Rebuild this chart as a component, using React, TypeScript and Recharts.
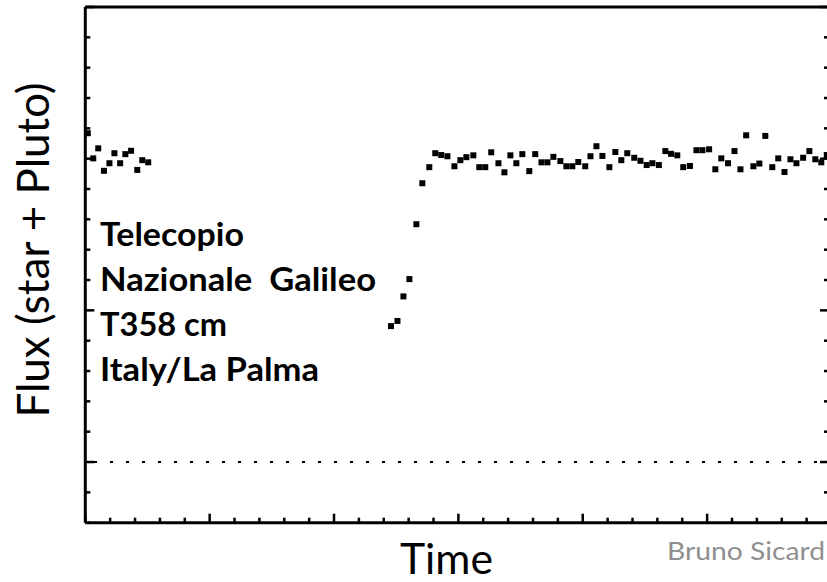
import { ReferenceLine, Scatter, ScatterChart, XAxis, YAxis } from "recharts";

// time in tick units, flux in tick units (bottom of frame = 0)
const preTime = [0.1, 0.32, 0.52, 0.75, 0.97, 1.17, 1.4, 1.61, 1.84, 2.09, 2.29, 2.53];
const preFlux = [12.84, 12.01, 12.34, 11.6, 11.85, 12.18, 11.85, 12.15, 12.26, 11.63, 11.95, 11.88];

const postTime = [
  12.29, 12.55, 12.79, 13.03, 13.31, 13.55, 13.83, 14.07, 14.31, 14.56, 14.84, 15.08, 15.32, 15.6, 15.84,
  16.08, 16.32, 16.61, 16.85, 17.09, 17.33, 17.57, 17.85, 18.09, 18.34, 18.58, 18.82, 19.1, 19.34, 19.58,
  19.82, 20.1, 20.31, 20.55, 20.79, 21.07, 21.31, 21.55, 21.79, 22.07, 22.32, 22.57, 22.8, 23.06, 23.32,
  23.55, 23.8, 24.04, 24.31, 24.57, 24.81, 25.08, 25.33, 25.57, 25.84, 26.1, 26.34, 26.57, 26.86, 27.1,
  27.34, 27.62, 27.86, 28.11, 28.35, 28.59, 28.86, 29.11, 29.35, 29.59, 29.81,
];
const postFlux = [
  6.48, 6.65, 7.46, 8.03, 9.84, 11.19, 11.72, 12.18, 12.12, 12.08, 11.75, 11.95, 12.05, 12.11, 11.72,
  11.72, 12.21, 11.85, 11.55, 12.11, 11.85, 12.15, 11.59, 12.15, 11.88, 11.88, 12.06, 11.92, 11.75, 11.75,
  11.89, 11.75, 12.08, 12.41, 12.09, 11.72, 12.22, 11.95, 12.18, 12.03, 11.93, 11.79, 11.85, 11.79, 12.25,
  12.16, 12.11, 11.72, 11.76, 12.28, 12.28, 12.31, 11.65, 12.01, 11.85, 12.25, 11.65, 12.77, 11.75, 11.84,
  12.75, 11.72, 12.01, 11.56, 11.98, 11.85, 12.03, 12.25, 11.98, 11.88, 12.12,
];

const xTicks = [0, 1, 2, 3, 4, 5, 6, 7, 8, 9, 10, 11, 12, 13, 14, 15, 16, 17, 18, 19, 20, 21, 22, 23, 24, 25, 26, 27, 28, 29];
const xMajor = [0, 5, 10, 15, 20, 25];
const yTicks = [0, 1, 2, 3, 4, 5, 6, 7, 8, 9, 10, 11, 12, 13, 14, 15, 16, 17];
const yMajor = [2, 7, 12, 17];
const baseline = 2;

const notes = ["Telecopio", "Nazionale  Galileo", "T358 cm", "Italy/La Palma"];
const noteWidths = [144, 276, 127, 219];

const X_MAX = 29.9;

const points = [
  ...preTime.map((t, i) => ({ t, flux: preFlux[i] })),
  ...postTime.map((t, i) => ({ t, flux: postFlux[i] })),
];

type Side = "left" | "right" | "top" | "bottom";

function makeTick(side: Side, majors: number[]) {
  return (props: any) => {
    const { x, y, payload } = props;
    const len = majors.includes(payload.value) ? 9 : 5;
    let x2 = x;
    let y2 = y;
    if (side === "left") x2 = x + len;
    if (side === "right") x2 = x - len;
    if (side === "top") y2 = y + len;
    if (side === "bottom") y2 = y - len;
    return <line x1={x} y1={y} x2={x2} y2={y2} stroke="#000" strokeWidth={2.5} />;
  };
}

const frame = { stroke: "#000", strokeWidth: 3 };

const Square = (p: any) => <rect x={p.cx - 3} y={p.cy - 3} width={6} height={6} fill="#000" />;

const axisBase = {
  type: "number" as const,
  interval: 0 as const,
  tickSize: 0,
  tickMargin: 0,
  tickLine: false,
  stroke: "#000",
  axisLine: frame,
  allowDataOverflow: true,
};

export default function App() {
  return (
    <div
      style={{
        position: "fixed",
        left: 0,
        top: 0,
        width: 827,
        height: 582,
        overflow: "hidden",
        background: "#fff",
      }}
    >
      <div style={{ position: "absolute", left: 0, top: 0 }}>
        <ScatterChart width={831} height={582} margin={{ top: 6, right: 1, bottom: 58.3, left: 84.3 }}>
          <XAxis
            {...axisBase}
            xAxisId="b"
            dataKey="t"
            domain={[0, X_MAX]}
            ticks={xTicks}
            height={1}
            tick={makeTick("bottom", xMajor)}
          />
          <XAxis
            {...axisBase}
            xAxisId="t"
            orientation="top"
            domain={[0, X_MAX]}
            ticks={xTicks}
            height={1}
            tick={makeTick("top", xMajor)}
          />
          <YAxis
            {...axisBase}
            yAxisId="l"
            dataKey="flux"
            domain={[0, 17]}
            ticks={yTicks}
            width={1}
            tick={makeTick("left", yMajor)}
          />
          <YAxis
            {...axisBase}
            yAxisId="r"
            orientation="right"
            domain={[0, 17]}
            ticks={yTicks}
            width={1}
            tick={makeTick("right", yMajor)}
          />
          <ReferenceLine
            xAxisId="b"
            yAxisId="l"
            y={baseline}
            stroke="#000"
            strokeWidth={2}
            strokeDasharray="3 13"
            strokeDashoffset={7.3}
          />
          <Scatter
            xAxisId="b"
            yAxisId="l"
            data={points}
            shape={Square}
            isAnimationActive={false}
          />
        </ScatterChart>
      </div>
      <svg
        width={827}
        height={582}
        style={{ position: "absolute", left: 0, top: 0, pointerEvents: "none" }}
        fontFamily="Lato, 'Open Sans', sans-serif"
      >
        {notes.map((n, i) => (
          <text
            key={n}
            x={100}
            y={245.5 + i * 45}
            fontSize={32}
            fontWeight={700}
            fill="#000"
            textLength={noteWidths[i]}
            lengthAdjust="spacingAndGlyphs"
            style={{ whiteSpace: "pre" }}
          >
            {n}
          </text>
        ))}
        <text x={400} y={574} fontSize={42} fill="#000" textLength={93} lengthAdjust="spacingAndGlyphs">
          Time
        </text>
        <text
          transform="translate(49,250) rotate(-90)"
          x={0}
          y={0}
          fontSize={44}
          fill="#000"
          textAnchor="middle"
          textLength={335}
          lengthAdjust="spacingAndGlyphs"
        >
          Flux (star + Pluto)
        </text>
        <text x={667} y={560} fontSize={25} fill="#8f8f8f" textLength={158} lengthAdjust="spacingAndGlyphs">
          Bruno Sicard
        </text>
      </svg>
    </div>
  );
}
